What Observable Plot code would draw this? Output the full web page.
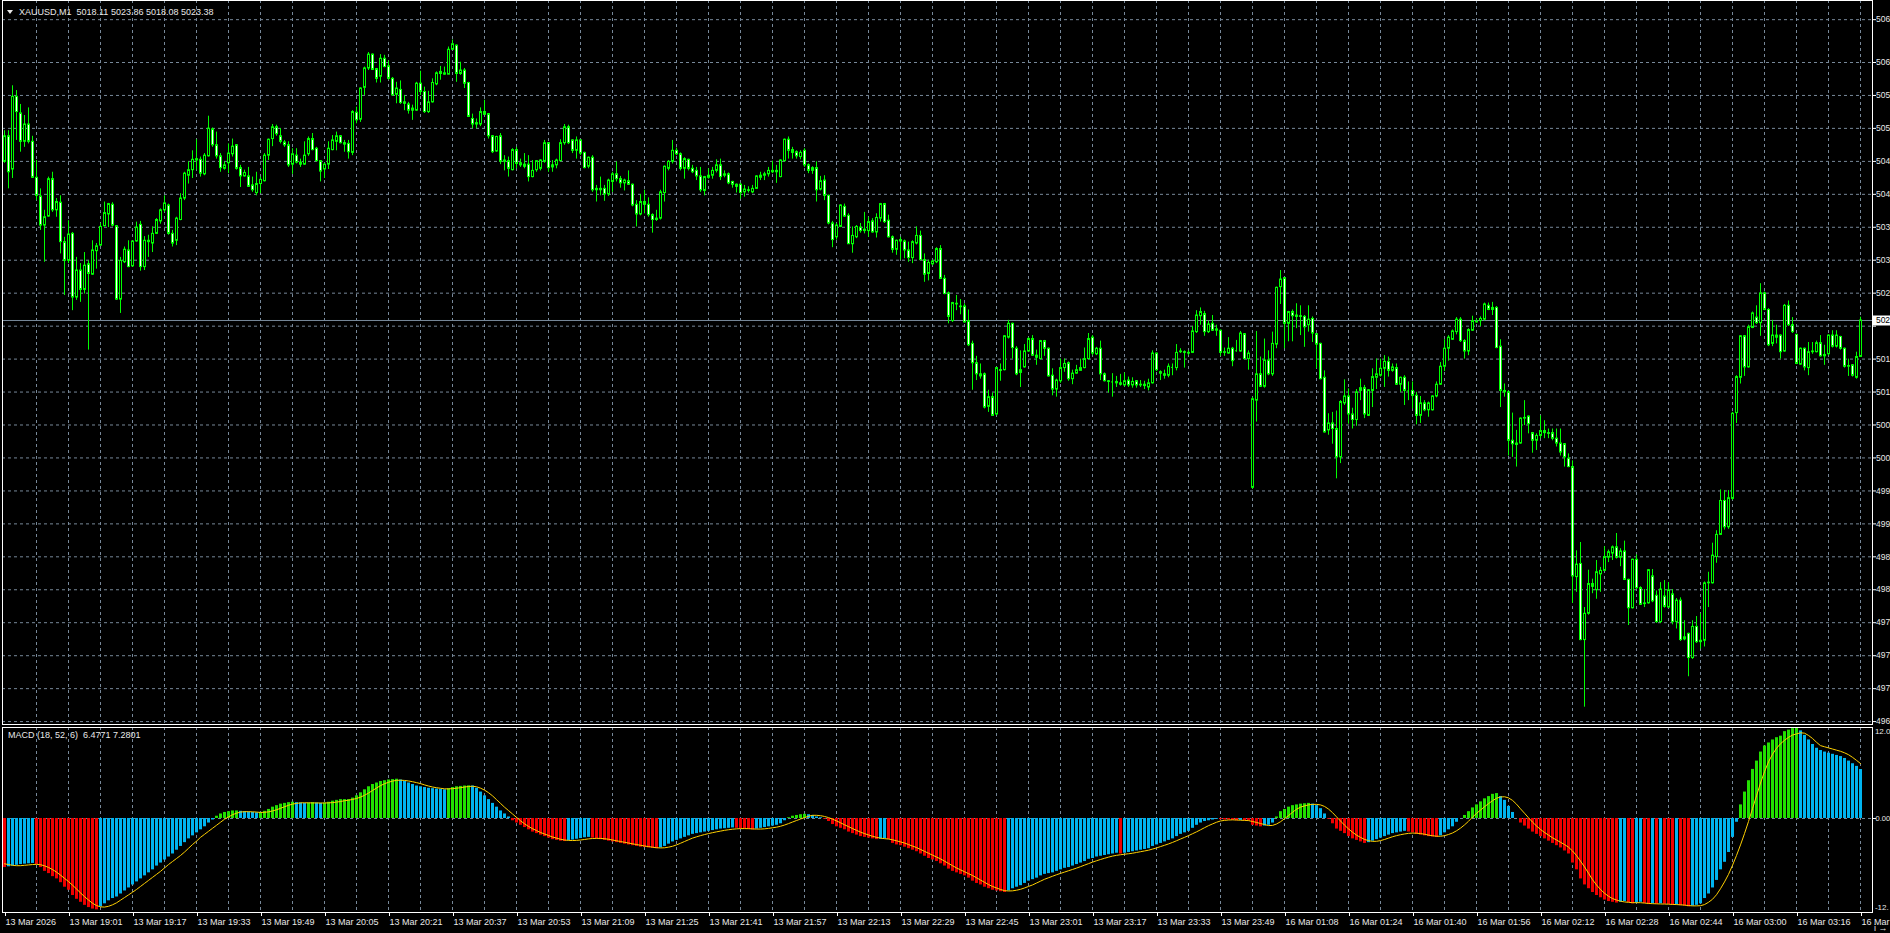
<!DOCTYPE html>
<html><head><meta charset="utf-8">
<script src="https://cdn.jsdelivr.net/npm/d3@7"></script>
<script src="https://cdn.jsdelivr.net/npm/@observablehq/plot@0.6"></script>
<style>
html,body{margin:0;padding:0;background:#000;width:1890px;height:933px;overflow:hidden;}
#wrap{position:relative;width:1890px;height:933px;background:#000;}
#wrap svg{position:absolute;left:0;top:0;}
.lbl{position:absolute;color:#e8e8e8;font:9px "Liberation Sans",Arial,sans-serif;line-height:11px;white-space:pre;}
.tri{position:absolute;left:7px;top:10px;width:0;height:0;border-left:3px solid transparent;border-right:3px solid transparent;border-top:4px solid #e8e8e8;}
</style></head><body><div id="wrap">
<div class="tri"></div>
<div class="lbl" style="left:19px;top:7px">XAUUSD,M1  5018.11 5023.86 5018.08 5023.38</div>
<div class="lbl" style="left:8px;top:730px">MACD (18, 52, 6)  6.4771 7.2801</div>
</div>
<script>
// ---------- DATA ----------
const timeLabels = ["13 Mar 2026","13 Mar 19:01","13 Mar 19:17","13 Mar 19:33","13 Mar 19:49","13 Mar 20:05","13 Mar 20:21","13 Mar 20:37","13 Mar 20:53","13 Mar 21:09","13 Mar 21:25","13 Mar 21:41","13 Mar 21:57","13 Mar 22:13","13 Mar 22:29","13 Mar 22:45","13 Mar 23:01","13 Mar 23:17","13 Mar 23:33","13 Mar 23:49","16 Mar 01:08","16 Mar 01:24","16 Mar 01:40","16 Mar 01:56","16 Mar 02:12","16 Mar 02:28","16 Mar 02:44","16 Mar 03:00","16 Mar 03:16","16 Mar"];
const timeTickBars = [0,16,32,48,64,80,96,112,128,144,160,176,192,208,224,240,256,272,288,304,320,336,352,368,384,400,416,432,448,464];
const priceTicks = [5066.85,5060.66,5055.90,5051.14,5046.37,5041.61,5036.85,5032.09,5027.33,5022.56,5017.80,5013.04,5008.28,5003.52,4998.75,4993.99,4989.23,4984.47,4979.71,4974.94,4970.18,4965.42];
const macdTop = 12.05, macdBottom = -12.45;
const macdLabels = ["12.0", "0.00", "-12."];
const lastPrice = 5023.38;

const opens = [
5046.3,5050.0,5045.2,5055.7,5053.3,5049.2,5051.7,5049.2,5044.0,5041.3,
5037.1,5038.4,5043.8,5039.3,5040.4,5034.7,5032.0,5035.9,5026.7,5030.6,
5027.8,5031.5,5030.0,5033.4,5034.2,5037.0,5038.7,5040.1,5037.0,5026.4,
5031.8,5033.5,5031.2,5034.8,5037.2,5031.1,5034.9,5034.5,5035.9,5037.7,
5039.3,5040.0,5035.9,5034.9,5037.9,5041.0,5044.3,5045.1,5046.5,5046.6,
5044.5,5047.1,5051.0,5048.7,5047.1,5045.3,5046.1,5047.4,5048.7,5045.4,
5044.2,5044.2,5042.9,5041.8,5043.1,5043.5,5047.2,5049.6,5051.3,5050.0,
5049.1,5048.7,5045.9,5047.2,5046.2,5045.9,5047.4,5049.6,5048.2,5046.4,
5045.2,5045.9,5048.0,5049.2,5050.0,5049.0,5048.9,5047.6,5053.4,5052.4,
5057.0,5059.8,5061.8,5059.7,5058.6,5061.2,5060.1,5058.3,5056.0,5056.7,
5054.9,5054.6,5054.0,5053.7,5057.6,5056.4,5053.5,5054.9,5057.5,5059.0,
5058.9,5058.9,5062.5,5063.1,5059.0,5059.5,5057.7,
5052.5,5051.7,5051.7,5053.5,5053.2,5050.0,5047.8,5050.0,5046.3,5046.4,
5045.1,5048.0,5046.1,5045.9,5045.9,5044.1,5045.1,5045.3,5046.3,5049.0,
5045.8,5045.8,5046.4,5049.0,5051.3,5049.4,5047.9,5049.4,5047.6,5045.6,
5046.9,5042.4,5042.2,5042.4,5041.6,5043.4,5044.5,5043.8,5043.2,5043.5,
5043.0,5040.1,5038.7,5040.5,5040.1,5038.6,5037.9,5038.1,5041.8,5045.3,
5046.3,5047.9,5047.4,5045.3,5046.6,5045.3,5045.0,5044.2,5042.1,5044.0,
5044.3,5045.0,5045.8,5044.3,5044.5,5043.4,5043.0,5043.0,5041.9,5042.2,
5041.9,5042.4,5044.0,5044.3,5044.5,5044.8,5044.8,5044.1,5046.4,5049.5,
5048.0,5047.7,5047.0,5047.9,5045.8,5045.0,5045.4,5042.3,5043.6,5041.4,
5037.4,5035.4,5036.9,5039.8,5038.5,5034.4,5035.4,5036.8,5036.3,5036.3,
5037.7,5036.1,5038.1,5040.2,5037.8,5035.4,5033.6,5034.8,5034.8,5033.5,
5032.4,5034.5,5035.6,5032.1,5030.1,5031.5,5031.8,
5033.7,5029.4,5027.3,5023.3,5025.8,5025.4,5025.4,5023.3,5020.0,5017.2,
5015.6,5015.6,5010.9,5012.3,5009.8,5016.2,5016.2,5020.9,5022.9,5019.3,
5015.8,5016.6,5018.9,5020.7,5018.3,5017.8,5020.4,5019.3,5015.4,5013.4,
5014.6,5016.5,5017.2,5014.9,5015.7,5016.1,5016.5,5017.8,5020.9,5018.5,
5019.3,5015.6,5014.6,5014.5,5014.5,5014.3,5014.0,5014.7,5014.0,5014.6,
5014.0,5014.1,5013.7,5014.3,5018.6,5015.9,5015.6,5015.4,5016.6,5016.5,
5018.8,5018.8,5018.7,5018.7,5021.7,5024.0,5024.3,5021.7,5022.9,5021.9,
5021.9,5018.7,5018.6,5019.3,5019.0,5018.9,5021.4,5017.8,4999.2,5011.8,
5015.6,5013.8,5017.6,5015.6,5019.9,5028.2,5029.5,5022.9,5024.6,5024.1,
5024.0,5023.9,5022.7,5023.6,5021.4,5020.0,5015.1,5007.5,5008.5,5007.7,
5003.6,5011.4,5012.4,5009.8,5009.0,5013.2,5013.6,5009.6,5013.2,5015.1,
5015.4,5016.4,5017.4,5016.1,
5016.5,5014.1,5015.1,5013.2,5013.2,5012.5,5009.6,5011.4,5010.4,5010.4,
5012.4,5014.1,5016.7,5019.3,5020.6,5021.7,5023.5,5020.4,5018.9,5021.9,
5023.1,5023.3,5023.5,5025.5,5024.9,5025.2,5019.6,5013.2,5013.0,5006.0,
5005.6,5005.6,5009.2,5009.5,5007.1,5006.0,5006.7,5007.4,5007.1,5007.1,
5006.3,5005.6,5005.5,5003.4,5002.2,4986.3,4988.2,4977.2,4981.0,4985.3,
4984.4,4986.7,4987.2,4989.1,4989.7,4990.6,4989.1,4990.0,4985.9,4981.8,
4988.8,4984.7,4982.4,4982.5,4986.4,4983.6,4979.8,4983.5,4981.9,4983.8,
4979.8,4982.9,4977.3,4978.1,4974.6,4979.1,4976.9,4977.1,4985.4,4985.4,
4989.2,4992.4,4997.3,4993.5,4997.6,5010.0,5015.1,5021.1,5016.6,5022.3,
5023.8,5023.0,5027.3,5024.9,5020.0,5021.2,5021.2,5018.9,5025.5,5022.7,
5021.3,5017.0,5019.3,5016.5,5018.8,5018.8,5020.1,5018.2,5018.5,5021.2,
5019.6,5021.0,5019.3,5016.7,5016.9,5015.1,5018.11];

const highs = [
5050.8,5050.8,5057.3,5056.6,5054.6,5053.0,5054.1,5050.0,5046.5,5042.4,
5039.3,5044.1,5044.8,5041.0,5041.4,5035.4,5037.8,5036.1,5032.5,5031.6,
5033.2,5032.0,5034.9,5034.5,5037.4,5040.5,5040.3,5040.4,5037.1,5032.5,
5034.0,5034.9,5034.8,5037.6,5037.7,5035.5,5035.7,5036.9,5038.1,5039.5,
5041.4,5040.2,5036.4,5038.3,5041.7,5044.8,5046.3,5047.9,5049.5,5047.0,
5047.5,5052.9,5051.2,5050.6,5047.5,5046.3,5048.9,5049.6,5048.8,5045.8,
5045.1,5045.5,5044.1,5044.8,5044.1,5047.5,5049.6,5051.7,5051.6,5051.1,
5049.4,5049.2,5048.2,5048.2,5046.7,5049.2,5049.9,5050.4,5048.4,5046.5,
5046.1,5049.2,5050.1,5050.6,5050.1,5049.4,5049.4,5053.7,5054.2,5057.0,
5060.0,5062.1,5061.9,5059.8,5061.8,5061.7,5060.9,5058.5,5057.8,5058.0,
5055.9,5054.9,5054.5,5057.8,5059.4,5057.1,5056.5,5058.3,5059.3,5060.1,
5060.0,5062.9,5063.9,5063.2,5060.7,5059.8,5057.8,
5053.2,5052.5,5054.1,5055.2,5053.3,5050.1,5050.0,5050.4,5047.2,5047.0,
5048.2,5048.4,5046.7,5047.5,5047.2,5046.5,5046.5,5046.6,5049.4,5049.1,
5046.5,5046.7,5049.5,5051.7,5051.6,5049.5,5049.9,5049.5,5047.7,5047.0,
5047.2,5042.9,5044.1,5042.9,5043.8,5044.8,5046.3,5044.2,5043.8,5045.0,
5043.1,5040.7,5041.6,5042.2,5041.1,5038.8,5039.3,5042.2,5045.7,5046.5,
5049.4,5048.3,5047.6,5046.9,5046.7,5045.8,5045.5,5045.5,5044.2,5045.3,
5045.5,5046.6,5046.7,5045.0,5044.7,5043.5,5043.1,5043.2,5042.9,5042.7,
5042.9,5044.3,5044.8,5044.8,5045.5,5046.4,5045.8,5046.6,5049.6,5049.9,
5048.4,5047.9,5047.9,5048.2,5046.0,5045.6,5046.3,5044.2,5044.3,5041.5,
5037.7,5037.4,5040.1,5040.2,5038.8,5036.9,5037.1,5037.4,5039.0,5038.3,
5038.1,5038.8,5040.3,5040.3,5038.6,5035.6,5035.0,5035.4,5035.0,5034.7,
5034.9,5036.9,5036.3,5033.0,5032.1,5032.1,5033.9,
5034.2,5029.9,5027.5,5026.0,5027.0,5026.4,5025.8,5024.9,5020.4,5018.2,
5017.1,5015.8,5013.3,5012.9,5016.6,5017.1,5021.2,5023.4,5023.0,5019.6,
5019.0,5019.9,5020.9,5021.2,5019.1,5020.5,5020.5,5019.4,5016.4,5014.9,
5017.8,5017.8,5017.4,5016.2,5016.9,5017.8,5019.4,5021.5,5021.2,5019.5,
5020.4,5015.8,5014.7,5015.7,5015.3,5015.6,5015.8,5015.2,5015.1,5014.7,
5014.7,5014.6,5014.9,5019.0,5018.7,5016.1,5016.2,5017.1,5017.1,5019.9,
5019.3,5019.0,5019.0,5022.5,5024.8,5025.2,5024.7,5023.3,5024.1,5022.7,
5022.0,5019.4,5020.9,5019.5,5020.5,5021.8,5021.5,5019.0,5012.3,5021.8,
5018.1,5020.7,5019.0,5021.7,5028.2,5030.6,5029.6,5024.7,5024.9,5025.8,
5025.5,5024.1,5025.5,5023.9,5021.5,5020.1,5016.1,5009.9,5010.1,5010.3,
5011.8,5014.8,5013.5,5010.7,5013.4,5014.9,5014.0,5013.4,5016.4,5017.8,
5017.8,5018.3,5018.1,5017.1,
5017.1,5015.2,5015.4,5014.5,5014.5,5013.0,5012.4,5011.8,5011.6,5012.5,
5014.5,5017.3,5020.6,5021.2,5022.0,5023.8,5023.8,5020.6,5022.2,5024.0,
5023.6,5023.9,5025.9,5025.9,5026.0,5025.4,5020.6,5014.2,5013.2,5010.0,
5007.5,5009.3,5011.8,5009.6,5007.2,5007.0,5009.6,5008.9,5007.7,5007.7,
5007.7,5007.7,5005.6,5004.1,5003.1,4990.1,4991.3,4981.9,4987.3,4986.0,
4988.7,4987.7,4990.7,4990.2,4990.8,4992.6,4990.4,4991.5,4986.0,4988.9,
4989.5,4984.9,4984.5,4987.4,4987.4,4984.3,4985.5,4985.8,4985.5,4984.5,
4983.2,4983.3,4980.0,4978.2,4980.0,4980.6,4981.0,4985.6,4987.0,4991.2,
4993.0,4998.9,4998.8,4998.8,5010.1,5015.4,5021.2,5021.2,5022.7,5024.6,
5025.5,5028.7,5027.5,5025.1,5023.4,5022.7,5021.3,5025.7,5026.2,5023.8,
5021.4,5019.4,5019.4,5020.2,5020.2,5020.4,5021.2,5019.8,5021.3,5021.9,
5021.9,5021.1,5019.4,5017.8,5017.0,5018.8,5023.86];

const lows = [
5046.1,5042.4,5043.9,5049.4,5047.7,5048.4,5048.9,5043.9,5040.7,5036.4,
5031.8,5038.3,5039.0,5038.3,5033.0,5027.0,5031.6,5024.8,5026.3,5026.0,
5027.2,5019.1,5029.9,5030.8,5034.1,5036.9,5036.8,5036.9,5026.3,5024.4,
5031.6,5031.0,5031.1,5034.7,5030.5,5030.6,5032.5,5033.2,5035.8,5037.3,
5039.0,5035.7,5034.0,5034.2,5037.8,5040.7,5043.1,5043.9,5045.1,5044.1,
5044.3,5047.0,5048.4,5046.7,5044.8,5045.1,5044.6,5047.0,5045.1,5042.6,
5044.1,5042.6,5041.9,5041.4,5041.7,5043.4,5046.5,5048.5,5050.0,5048.9,
5048.4,5045.5,5044.5,5046.0,5045.5,5045.8,5047.1,5047.9,5046.3,5043.4,
5043.9,5045.2,5047.9,5047.9,5048.9,5047.7,5046.7,5047.2,5051.8,5052.0,
5055.9,5059.5,5059.5,5057.7,5057.7,5059.9,5058.1,5055.8,5054.7,5054.6,
5053.7,5053.2,5052.3,5053.6,5055.9,5053.3,5053.3,5054.8,5057.3,5058.1,
5058.8,5058.9,5062.4,5057.8,5058.8,5056.9,5052.7,
5051.1,5051.1,5051.4,5053.0,5049.6,5047.5,5047.7,5045.9,5045.0,5044.1,
5045.0,5045.3,5045.5,5045.3,5043.4,5044.0,5044.8,5045.0,5046.1,5044.8,
5044.8,5045.3,5046.3,5048.7,5048.8,5047.5,5046.7,5047.2,5045.3,5045.3,
5041.9,5040.5,5041.4,5040.6,5041.3,5041.9,5043.4,5042.5,5042.1,5042.9,
5039.8,5036.9,5038.5,5038.8,5038.3,5036.0,5037.7,5037.9,5040.5,5045.0,
5046.0,5047.2,5045.0,5043.8,5045.0,5044.6,5043.6,5041.9,5041.4,5043.8,
5043.8,5044.7,5043.6,5044.0,5043.0,5042.5,5041.8,5040.9,5041.2,5041.8,
5041.7,5042.3,5043.6,5043.6,5044.1,5044.6,5043.2,5044.0,5046.3,5046.7,
5046.7,5046.7,5046.6,5045.5,5044.6,5044.5,5040.5,5042.1,5040.7,5037.2,
5033.9,5035.0,5036.8,5038.3,5034.4,5033.1,5035.2,5036.0,5035.9,5035.4,
5036.0,5035.3,5037.6,5037.4,5035.3,5033.1,5032.8,5032.1,5032.3,5031.8,
5031.6,5034.3,5032.0,5028.9,5029.1,5031.3,5031.6,
5029.3,5027.1,5022.9,5023.1,5024.8,5024.2,5023.0,5019.6,5013.3,5014.7,
5014.9,5010.6,5010.1,5009.6,5009.6,5014.6,5016.1,5020.7,5017.8,5015.4,
5013.7,5016.5,5018.8,5018.2,5016.9,5017.7,5018.2,5015.2,5012.5,5012.3,
5014.3,5015.9,5014.6,5014.1,5015.6,5016.1,5016.4,5017.7,5018.3,5018.3,
5014.7,5014.5,5012.9,5012.3,5013.7,5013.9,5013.8,5013.7,5013.6,5013.6,
5013.7,5013.4,5013.2,5014.2,5016.0,5014.7,5014.9,5015.1,5015.4,5016.1,
5018.6,5016.5,5018.3,5018.6,5021.5,5022.7,5021.1,5021.5,5021.8,5021.1,
5018.2,5018.2,5018.5,5016.7,5018.8,5018.8,5017.7,5016.2,4999.0,5008.7,
5013.7,5013.6,5015.4,5015.3,5019.3,5025.7,5019.3,5020.3,5020.3,5022.2,
5021.2,5019.5,5021.7,5020.2,5016.4,5014.8,5007.1,5006.8,5005.5,5000.5,
5002.7,5011.1,5008.4,5007.7,5008.1,5011.8,5009.2,5009.5,5010.8,5013.4,
5015.2,5013.7,5015.2,5015.9,
5014.0,5013.0,5011.1,5011.8,5010.6,5008.3,5008.5,5010.2,5009.4,5010.3,
5012.2,5014.0,5016.0,5017.5,5020.5,5021.3,5020.2,5017.8,5018.3,5021.8,
5023.0,5022.5,5023.3,5024.8,5024.1,5019.3,5010.8,5012.3,5003.8,5003.6,
5002.2,5005.5,5008.2,5007.0,5004.2,5004.6,5006.3,5006.3,5006.3,5006.0,
5005.1,5003.8,5002.2,5002.1,4982.5,4984.1,4977.1,4967.5,4980.8,4983.9,
4983.1,4984.1,4987.1,4988.4,4988.7,4988.9,4987.8,4985.8,4979.3,4981.7,
4984.5,4982.2,4981.9,4982.4,4982.6,4979.6,4979.6,4981.8,4981.8,4979.4,
4978.8,4977.0,4977.1,4971.9,4974.4,4976.7,4975.9,4976.2,4981.9,4985.3,
4988.3,4992.3,4993.1,4993.2,4997.4,5008.5,5014.2,5015.3,5016.5,5022.2,
5022.8,5021.1,5024.8,5019.6,5019.6,5020.0,5017.8,5018.8,5022.5,5021.5,
5017.0,5016.9,5016.1,5015.4,5018.5,5018.7,5018.1,5016.9,5018.3,5019.4,
5019.4,5019.1,5016.5,5015.3,5015.2,5014.9,5018.08];

const closes = [
5050.0,5044.8,5055.7,5053.5,5049.2,5051.7,5049.2,5044.0,5041.4,5037.1,
5038.3,5043.8,5039.3,5040.5,5034.7,5032.0,5035.8,5026.7,5030.6,5027.8,
5031.3,5030.1,5033.5,5034.1,5036.9,5038.9,5040.2,5037.1,5026.4,5032.0,
5033.6,5031.1,5034.8,5036.8,5031.1,5034.9,5034.7,5035.9,5037.9,5039.3,
5040.3,5035.9,5034.5,5038.1,5041.0,5044.6,5045.1,5046.6,5046.7,5044.6,
5047.2,5051.1,5048.7,5047.1,5045.4,5045.8,5047.5,5048.5,5045.3,5044.2,
5044.7,5042.7,5042.2,5043.1,5043.7,5047.2,5049.5,5051.3,5050.3,5049.2,
5048.7,5045.8,5047.4,5046.2,5045.9,5047.2,5049.6,5048.0,5046.4,5044.9,
5045.9,5048.2,5049.4,5050.0,5049.0,5048.8,5047.7,5053.5,5052.3,5056.9,
5059.8,5061.8,5059.6,5058.3,5061.2,5060.0,5058.3,5055.9,5056.9,5054.8,
5054.7,5053.7,5053.7,5057.6,5056.4,5053.5,5054.9,5057.7,5059.1,5059.3,
5059.1,5062.5,5063.3,5059.0,5059.5,5057.6,5052.8,
5051.7,5051.9,5053.5,5053.1,5050.0,5047.7,5049.9,5046.3,5046.5,5045.3,
5048.0,5046.0,5045.8,5045.6,5044.1,5045.0,5046.4,5046.5,5049.0,5045.4,
5045.5,5046.5,5049.0,5051.3,5049.0,5047.9,5049.4,5047.5,5045.4,5046.9,
5042.2,5042.2,5042.4,5041.6,5043.6,5044.5,5043.8,5043.2,5043.6,5043.0,
5040.0,5038.7,5040.5,5040.1,5038.6,5037.9,5038.1,5041.9,5045.6,5046.3,
5047.9,5047.4,5045.3,5046.7,5045.3,5044.8,5044.2,5042.2,5044.1,5044.3,
5045.0,5045.8,5044.1,5044.5,5043.2,5043.0,5042.7,5041.8,5042.3,5042.1,
5042.4,5044.2,5044.3,5044.5,5045.0,5045.0,5045.0,5046.5,5049.5,5047.9,
5047.6,5047.1,5047.6,5045.8,5045.0,5045.4,5042.2,5043.5,5041.4,5037.4,
5035.0,5037.1,5040.0,5038.4,5034.4,5035.6,5036.9,5036.3,5036.5,5037.6,
5036.1,5038.2,5040.2,5037.6,5035.4,5033.6,5034.9,5035.0,5033.5,5032.4,
5034.7,5035.6,5032.1,5030.0,5031.7,5031.9,5033.7,
5029.4,5027.2,5023.9,5025.9,5025.7,5025.3,5023.1,5019.8,5017.2,5015.6,
5015.3,5010.8,5012.3,5009.6,5016.5,5016.1,5021.1,5022.9,5019.4,5015.6,
5016.2,5018.9,5020.7,5018.3,5018.0,5020.4,5019.3,5015.3,5013.4,5014.7,
5016.5,5017.1,5014.9,5015.7,5016.2,5016.5,5017.8,5020.7,5018.6,5019.3,
5015.6,5014.6,5014.5,5014.5,5014.3,5014.1,5014.6,5014.0,5014.5,5014.0,
5014.1,5013.9,5014.3,5018.6,5016.2,5015.7,5015.4,5016.7,5016.6,5018.7,
5018.9,5018.7,5018.6,5021.8,5024.1,5024.6,5021.7,5022.8,5021.9,5022.1,
5018.7,5018.8,5019.3,5017.5,5019.0,5021.5,5017.8,5018.6,5012.0,5015.6,
5013.8,5017.6,5015.6,5020.0,5028.1,5029.3,5022.9,5024.6,5024.0,5023.9,
5023.9,5022.4,5023.5,5021.5,5019.9,5014.9,5007.2,5008.5,5007.7,5003.6,
5011.6,5012.4,5009.8,5009.0,5013.0,5013.6,5009.8,5013.3,5015.2,5015.6,
5016.4,5017.4,5016.1,5016.6,
5014.1,5015.1,5013.2,5013.2,5012.5,5009.6,5011.4,5010.4,5011.4,5012.4,
5014.1,5016.7,5019.3,5020.9,5021.8,5023.5,5020.4,5018.9,5022.0,5023.3,
5023.2,5023.6,5025.7,5024.9,5025.2,5019.4,5013.2,5013.0,5006.0,5005.5,
5005.4,5009.2,5009.3,5008.4,5006.0,5006.7,5007.4,5007.1,5007.0,5006.3,
5005.6,5004.3,5003.6,5002.2,4986.4,4988.1,4977.2,4981.0,4985.3,4984.9,
4987.0,4987.2,4989.2,4989.9,4990.6,4989.1,4990.0,4985.9,4981.8,4988.8,
4984.7,4982.3,4982.5,4987.3,4982.8,4979.8,4984.5,4982.0,4984.4,4979.8,
4982.9,4977.2,4977.6,4974.6,4979.1,4976.9,4977.1,4985.4,4985.5,4989.4,
4992.4,4997.3,4993.5,4997.7,5009.9,5015.2,5021.1,5016.6,5022.4,5024.4,
5023.0,5027.3,5024.9,5019.8,5021.2,5020.9,5018.8,5025.5,5022.7,5021.7,
5017.1,5019.3,5016.6,5018.8,5018.9,5020.1,5018.2,5018.4,5021.2,5019.6,
5021.2,5019.3,5016.7,5016.8,5015.4,5018.1,5023.38];

const macdHist = [
-6.5,-6.4,-6.3,-6.2,-6.1,-6.05,-6.0,-5.95,-6.1,-6.5,
-7.0,-7.3,-7.7,-8.0,-8.5,-9.1,-9.5,-10.2,-10.7,-11.1,
-11.5,-11.8,-12.0,-12.1,-11.7,-11.3,-10.9,-10.6,-10.4,-10.0,
-9.6,-9.2,-8.8,-8.4,-8.0,-7.6,-7.2,-6.8,-6.3,-5.9,
-5.5,-5.1,-4.7,-4.2,-3.7,-3.2,-2.7,-2.3,-1.9,-1.5,
-1.1,-0.6,-0.2,0.3,0.6,0.8,0.9,1.0,1.0,0.95,
0.9,0.85,0.8,0.75,0.8,0.95,1.2,1.5,1.7,1.9,
2.0,2.1,2.15,2.1,2.05,2.0,2.05,2.1,2.05,2.0,
2.05,2.15,2.3,2.4,2.5,2.5,2.5,2.7,3.0,3.4,
3.8,4.2,4.5,4.7,4.9,5.0,5.1,5.15,5.2,5.1,
4.9,4.7,4.5,4.3,4.2,4.1,4.0,3.95,3.9,3.85,
3.8,3.95,4.1,4.2,4.25,4.3,4.32,4.3,4.0,3.5,
3.0,2.5,2.0,1.5,1.0,0.6,0.2,-0.3,-0.6,-0.9,
-1.2,-1.5,-1.8,-2.0,-2.2,-2.4,-2.6,-2.8,-2.9,-3.0,
-3.05,-2.95,-2.85,-2.75,-2.65,-2.55,-2.5,-2.6,-2.7,-2.8,
-2.9,-3.0,-3.1,-3.2,-3.3,-3.4,-3.5,-3.6,-3.7,-3.8,
-3.85,-3.9,-3.95,-4.0,-3.9,-3.7,-3.4,-3.1,-2.9,-2.7,
-2.5,-2.3,-2.1,-2.0,-1.9,-1.8,-1.7,-1.6,-1.5,-1.4,
-1.35,-1.3,-1.25,-1.3,-1.35,-1.4,-1.45,-1.5,-1.4,-1.3,
-1.2,-1.1,-1.0,-0.9,-0.7,-0.3,0.1,0.3,0.4,0.5,
0.55,0.5,0.4,0.2,0.1,-0.1,-0.4,-0.8,-1.1,-1.3,
-1.5,-1.8,-2.0,-2.2,-2.4,-2.5,-2.6,-2.7,-2.8,-2.75,
-2.7,-2.8,-3.3,-3.5,-3.6,-3.8,-4.0,-4.2,-4.4,-4.7,
-5.0,-5.3,-5.5,-5.7,-6.0,-6.3,-6.7,-7.0,-7.2,-7.4,
-7.6,-7.9,-8.3,-8.6,-8.8,-9.1,-9.3,-9.5,-9.6,-9.7,
-9.8,-9.6,-9.3,-9.1,-8.9,-8.6,-8.3,-8.1,-7.9,-7.6,
-7.4,-7.3,-7.2,-7.0,-6.8,-6.6,-6.5,-6.3,-6.1,-5.9,
-5.7,-5.4,-5.3,-5.1,-5.0,-4.9,-4.8,-4.7,-4.6,-4.7,
-4.6,-4.5,-4.4,-4.3,-4.2,-4.1,-4.0,-3.7,-3.5,-3.3,
-3.1,-2.9,-2.7,-2.4,-2.1,-1.9,-1.7,-1.3,-0.9,-0.6,
-0.4,-0.3,-0.2,-0.1,-0.15,-0.2,-0.2,-0.25,-0.3,-0.25,
-0.3,-0.35,-0.9,-1.0,-1.1,-1.0,-0.9,-0.6,0.2,0.9,
1.2,1.5,1.7,1.8,1.9,1.95,2.0,1.9,1.7,1.3,
0.6,-0.1,-0.7,-1.4,-1.7,-2.0,-2.4,-2.7,-2.9,-3.1,
-3.3,-3.2,-3.0,-2.8,-2.6,-2.4,-2.2,-2.0,-1.9,-1.8,
-1.7,-1.8,-1.9,-2.1,-2.2,-2.3,-2.4,-2.45,-2.5,-2.3,
-1.9,-1.5,-1.1,-0.5,0.0,0.4,0.9,1.4,1.8,2.2,
2.6,2.9,3.2,3.3,2.9,2.4,1.6,0.8,0.0,-0.6,
-1.0,-1.4,-1.8,-2.1,-2.4,-2.7,-3.0,-3.3,-3.6,-3.9,
-4.3,-4.7,-5.9,-6.8,-8.0,-8.8,-9.3,-9.8,-10.2,-10.5,
-10.8,-11.0,-11.1,-11.2,-11.1,-11.0,-11.15,-11.3,-11.2,-11.1,
-11.25,-11.4,-11.3,-11.35,-11.3,-11.35,-11.4,-11.5,-11.45,-11.55,
-11.6,-11.7,-11.6,-11.5,-11.3,-10.6,-10.0,-9.2,-8.2,-6.8,
-5.8,-4.5,-2.5,-0.5,1.8,3.5,5.0,6.5,7.6,8.8,
9.6,10.0,10.4,10.7,10.9,11.5,11.7,11.9,12.0,11.6,
11.0,10.4,9.8,9.3,9.0,8.8,8.65,8.5,8.35,8.2,
7.95,7.6,7.25,6.9,6.48];

const macdSignal = [
-6.0,-6.1,-6.2,-6.25,-6.25,-6.2,-6.15,-6.1,-6.07,-6.12,
-6.27,-6.48,-6.76,-7.1,-7.5,-7.93,-8.35,-8.83,-9.33,-9.85,
-10.35,-10.8,-11.22,-11.53,-11.7,-11.73,-11.63,-11.43,-11.17,-10.82,
-10.47,-10.12,-9.77,-9.4,-9.0,-8.6,-8.2,-7.8,-7.4,-7.0,
-6.55,-6.1,-5.7,-5.3,-4.9,-4.45,-3.95,-3.45,-3.0,-2.5,
-2.1,-1.7,-1.3,-0.9,-0.5,-0.1,0.2,0.5,0.7,0.85,
0.9,0.9,0.88,0.85,0.8,0.82,0.88,1.0,1.15,1.35,
1.55,1.75,1.9,2.0,2.07,2.08,2.07,2.06,2.06,2.05,
2.05,2.07,2.1,2.17,2.25,2.35,2.42,2.52,2.65,2.83,
3.07,3.37,3.7,4.03,4.35,4.6,4.8,4.95,5.05,5.07,
5.04,4.97,4.87,4.75,4.62,4.45,4.3,4.17,4.08,4.0,
3.93,3.92,3.95,4.01,4.08,4.16,4.24,4.27,4.2,4.02,
3.76,3.42,3.0,2.5,2.0,1.5,1.05,0.6,0.15,-0.3,
-0.7,-1.05,-1.35,-1.6,-1.85,-2.05,-2.25,-2.45,-2.6,-2.75,
-2.85,-2.9,-2.92,-2.9,-2.85,-2.78,-2.7,-2.65,-2.63,-2.64,
-2.68,-2.75,-2.85,-2.95,-3.05,-3.15,-3.25,-3.35,-3.45,-3.55,
-3.64,-3.72,-3.8,-3.87,-3.9,-3.88,-3.8,-3.68,-3.5,-3.28,
-3.05,-2.82,-2.6,-2.43,-2.27,-2.13,-2.0,-1.88,-1.77,-1.67,
-1.57,-1.49,-1.42,-1.37,-1.34,-1.34,-1.35,-1.38,-1.4,-1.4,
-1.37,-1.31,-1.23,-1.15,-1.03,-0.87,-0.68,-0.47,-0.27,-0.07,
0.12,0.3,0.42,0.42,0.37,0.27,0.12,-0.08,-0.32,-0.57,
-0.83,-1.08,-1.33,-1.57,-1.8,-2.0,-2.18,-2.35,-2.5,-2.6,
-2.67,-2.72,-2.82,-2.95,-3.1,-3.25,-3.45,-3.65,-3.85,-4.1,
-4.35,-4.6,-4.85,-5.1,-5.35,-5.65,-5.95,-6.25,-6.55,-6.8,
-7.05,-7.3,-7.55,-7.85,-8.15,-8.45,-8.75,-9.0,-9.2,-9.4,
-9.55,-9.6,-9.58,-9.5,-9.38,-9.2,-9.0,-8.8,-8.55,-8.3,
-8.05,-7.85,-7.65,-7.45,-7.27,-7.1,-6.92,-6.75,-6.57,-6.38,
-6.18,-5.98,-5.78,-5.6,-5.43,-5.27,-5.12,-4.98,-4.88,-4.8,
-4.73,-4.67,-4.6,-4.5,-4.4,-4.3,-4.2,-4.05,-3.9,-3.72,
-3.55,-3.37,-3.17,-2.95,-2.72,-2.5,-2.27,-2.02,-1.77,-1.5,
-1.22,-0.95,-0.72,-0.5,-0.33,-0.25,-0.2,-0.18,-0.2,-0.23,
-0.25,-0.28,-0.4,-0.52,-0.67,-0.8,-0.94,-0.92,-0.73,-0.43,
-0.03,0.38,0.82,1.22,1.5,1.67,1.8,1.87,1.87,1.8,
1.6,1.25,0.78,0.22,-0.33,-0.88,-1.38,-1.82,-2.2,-2.5,
-2.77,-2.93,-3.03,-3.02,-2.93,-2.78,-2.6,-2.42,-2.27,-2.15,
-2.05,-1.97,-1.93,-1.95,-2.0,-2.08,-2.2,-2.28,-2.35,-2.35,
-2.28,-2.12,-1.92,-1.63,-1.28,-0.85,-0.37,0.18,0.67,1.12,
1.55,1.97,2.35,2.68,2.85,2.88,2.73,2.4,1.9,1.28,
0.7,0.1,-0.48,-0.99,-1.45,-1.85,-2.2,-2.55,-2.85,-3.15,
-3.45,-3.8,-4.3,-4.9,-5.65,-6.4,-7.25,-8.1,-8.8,-9.4,
-9.9,-10.3,-10.6,-10.8,-10.95,-11.05,-11.1,-11.15,-11.15,-11.15,
-11.2,-11.25,-11.28,-11.3,-11.32,-11.33,-11.35,-11.38,-11.4,-11.43,
-11.47,-11.53,-11.57,-11.57,-11.55,-11.4,-11.1,-10.7,-10.1,-9.3,
-8.4,-7.4,-6.2,-4.9,-3.5,-2.0,-0.4,1.3,3.0,4.7,
6.2,7.5,8.5,9.3,9.9,10.35,10.75,11.05,11.2,11.35,
11.3,11.0,10.6,10.1,9.65,9.5,9.35,9.2,9.05,8.9,
8.7,8.45,8.1,7.7,7.28];

// ---------- STYLE ----------
const W = 1890, H = 933;
const GRID = "#778899", CANDLE = "#00ff00", FRAME = "#ffffff", TXT = "#e8e8e8";
const C_UP = "#22e000", C_MID = "#00b4f0", C_DN = "#f00000", C_SIG = "#ffd000";
const font = {background: "transparent", color: TXT, fontFamily: "'Liberation Sans', Arial, sans-serif", fontSize: "9px", overflow: "hidden"};
const xDef = {type: "linear", domain: [0, 464], range: [4, 1860], axis: null};
const gridBars = d3.range(8, 465, 8);
const xLabel = 467.6; // bar-index position just right of the frame (axis label column)

const bars = closes.map((c, i) => ({i, o: opens[i], h: highs[i], l: lows[i], c}));
const dojis = bars.filter(d => Math.abs(d.c - d.o) < 0.05);
const macd = macdHist.map((v, i) => ({i, v, s: macdSignal[i]}));
const macdColors = macdHist.map((v, i) => {
  const p = i > 0 ? macdHist[i - 1] : v;
  if (v >= 0) return v >= p ? C_UP : C_MID;
  return v <= p ? C_DN : C_MID;
});
// price labels: the one under the bid box is hidden in the reference
const labelTicks = priceTicks.filter(t => Math.abs(t - lastPrice) > 1.5);
// right-axis text is clipped by the window edge in the reference: keep the visible part
const visible = s => s.slice(0, 3);

const mainPlot = Plot.plot({
  width: W, height: H,
  marginLeft: 2, marginRight: 18, marginTop: 0, marginBottom: H - 724,
  style: font,
  x: xDef,
  y: {type: "linear", domain: [4965.00, 5069.62], range: [724, 0], axis: null},
  marks: [
    Plot.ruleY(priceTicks, {stroke: GRID, strokeDasharray: "3,3"}),
    Plot.ruleX(gridBars, {stroke: GRID, strokeDasharray: "3,3"}),
    Plot.ruleY([lastPrice], {stroke: GRID}),
    Plot.ruleX(bars, {x: "i", y1: "l", y2: "h", stroke: CANDLE}),
    Plot.rect(bars, {x1: d => d.i - 0.125, x2: d => d.i + 0.375, y1: "o", y2: "c",
      fill: d => d.c >= d.o ? "#000000" : "#ffffff", stroke: CANDLE}),
    Plot.ruleY(dojis, {x1: d => d.i - 0.25, x2: d => d.i + 0.25, y: "c", stroke: CANDLE}),
    Plot.axisY(priceTicks, {anchor: "right", tickSize: 3, stroke: FRAME, text: null}),
    Plot.axisY(labelTicks, {anchor: "right", tickSize: 0, tickPadding: 3.5, fill: TXT, fontSize: 8.5,
      tickFormat: d => visible(d.toFixed(2)), textAnchor: "start"}),
    Plot.ruleY([lastPrice], {x1: 467, x2: 473, stroke: "#ffffff", strokeWidth: 10}),
    Plot.text([lastPrice], {x: 467.85, y: d => d, text: d => visible(d.toFixed(2)), textAnchor: "start", fill: "#000000", fontSize: 8.5}),
    Plot.frame({stroke: FRAME})
  ]
});

const macdPlot = Plot.plot({
  width: W, height: H,
  marginLeft: 2, marginRight: 18, marginTop: 727, marginBottom: H - 912,
  style: font,
  x: xDef,
  y: {type: "linear", domain: [macdBottom, macdTop], range: [912, 727], axis: null},
  marks: [
    Plot.ruleX(gridBars, {stroke: GRID, strokeDasharray: "3,3"}),
    Plot.ruleY([0], {stroke: GRID, strokeDasharray: "3,3"}),
    Plot.rect(macd, {x1: d => d.i - 0.25, x2: d => d.i + 0.5, y1: 0, y2: "v", fill: d => macdColors[d.i]}),
    Plot.line(macd, {x: "i", y: "s", stroke: C_SIG, strokeWidth: 1}),
    Plot.axisY([0], {anchor: "right", tickSize: 3, tickPadding: 0, stroke: FRAME, fill: TXT, fontSize: 7.5, textAnchor: "start", tickFormat: () => macdLabels[1]}),
    Plot.text([macdTop], {x: xLabel, y: d => d, text: () => macdLabels[0], textAnchor: "start", lineAnchor: "top", dy: 1, fill: TXT, fontSize: 8}),
    Plot.text([macdBottom], {x: xLabel, y: d => d, text: () => macdLabels[2], textAnchor: "start", lineAnchor: "bottom", dy: -3, fill: TXT, fontSize: 8}),
    Plot.axisX(timeTickBars, {anchor: "bottom", tickSize: 4, tickPadding: 2.5, stroke: FRAME, fill: TXT,
      textAnchor: "start", dx: 1, tickFormat: d => timeLabels[timeTickBars.indexOf(d)]}),
    Plot.frame({stroke: FRAME})
  ]
});

const wrap = document.getElementById("wrap");
wrap.insertBefore(macdPlot, wrap.firstChild);
wrap.insertBefore(mainPlot, wrap.firstChild);
</script></body></html>
